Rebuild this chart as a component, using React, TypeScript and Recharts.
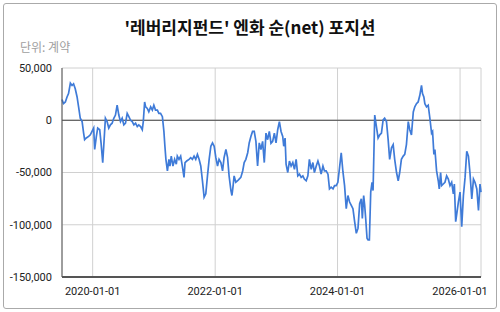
import React from 'react';
import { LineChart, Line, XAxis, YAxis, CartesianGrid, ReferenceLine } from 'recharts';

const dates = [
  '2019-07-02', '2019-07-11', '2019-07-22', '2019-08-01', '2019-08-10', '2019-08-21', '2019-08-31', '2019-09-09', '2019-09-19', '2019-09-30',
  '2019-10-09', '2019-10-19', '2019-10-30', '2019-11-08', '2019-11-14', '2019-11-24', '2019-12-08', '2019-12-18', '2019-12-28', '2020-01-07',
  '2020-01-13', '2020-01-23', '2020-01-31', '2020-02-12', '2020-02-20', '2020-03-01', '2020-03-07', '2020-03-17', '2020-03-27', '2020-04-06',
  '2020-04-16', '2020-04-26', '2020-05-06', '2020-05-16', '2020-05-26', '2020-06-05', '2020-06-15', '2020-06-25', '2020-07-05', '2020-07-15',
  '2020-07-25', '2020-08-04', '2020-08-14', '2020-08-24', '2020-09-03', '2020-09-13', '2020-09-23', '2020-10-02', '2020-10-13', '2020-10-23',
  '2020-10-29', '2020-11-06', '2020-11-12', '2020-11-22', '2020-12-01', '2020-12-12', '2020-12-22', '2020-12-31', '2021-01-10', '2021-01-21',
  '2021-01-30', '2021-02-09', '2021-02-20', '2021-03-01', '2021-03-07', '2021-03-13', '2021-03-22', '2021-03-31', '2021-04-06', '2021-04-14',
  '2021-04-24', '2021-05-04', '2021-05-14', '2021-05-20', '2021-05-30', '2021-06-09', '2021-06-19', '2021-06-29', '2021-07-05', '2021-07-15',
  '2021-07-29', '2021-08-08', '2021-08-18', '2021-08-28', '2021-09-07', '2021-09-17', '2021-09-27', '2021-10-07', '2021-10-17', '2021-10-27',
  '2021-11-06', '2021-11-16', '2021-11-26', '2021-12-06', '2021-12-16', '2021-12-26', '2022-01-05', '2022-01-15', '2022-01-24', '2022-02-04',
  '2022-02-14', '2022-02-23', '2022-03-06', '2022-03-16', '2022-03-25', '2022-04-05', '2022-04-11', '2022-04-18', '2022-04-24', '2022-05-04',
  '2022-05-15', '2022-05-24', '2022-06-03', '2022-06-14', '2022-06-23', '2022-07-03', '2022-07-14', '2022-07-23', '2022-08-02', '2022-08-12',
  '2022-08-22', '2022-09-01', '2022-09-11', '2022-09-21', '2022-10-01', '2022-10-11', '2022-10-21', '2022-10-31', '2022-11-10', '2022-11-20',
  '2022-11-30', '2022-12-10', '2022-12-20', '2022-12-30', '2023-01-09', '2023-01-19', '2023-01-29', '2023-02-08', '2023-02-14', '2023-02-22',
  '2023-02-28', '2023-03-10', '2023-03-20', '2023-03-30', '2023-04-09', '2023-04-19', '2023-04-29', '2023-05-09', '2023-05-19', '2023-05-29',
  '2023-06-08', '2023-06-17', '2023-06-28', '2023-07-08', '2023-07-17', '2023-07-28', '2023-08-07', '2023-08-16', '2023-08-27', '2023-09-06',
  '2023-09-15', '2023-09-25', '2023-10-06', '2023-10-15', '2023-10-25', '2023-11-05', '2023-11-14', '2023-11-24', '2023-12-05', '2023-12-14',
  '2023-12-24', '2024-01-03', '2024-01-13', '2024-01-23', '2024-02-02', '2024-02-12', '2024-02-22', '2024-03-03', '2024-03-13', '2024-03-23',
  '2024-04-02', '2024-04-12', '2024-04-22', '2024-05-02', '2024-05-12', '2024-05-22', '2024-05-28', '2024-06-05', '2024-06-11', '2024-06-17',
  '2024-06-25', '2024-07-01', '2024-07-09', '2024-07-17', '2024-07-25', '2024-07-31', '2024-08-10', '2024-08-20', '2024-08-30', '2024-09-09',
  '2024-09-19', '2024-09-29', '2024-10-08', '2024-10-19', '2024-10-29', '2024-11-07', '2024-11-18', '2024-11-28', '2024-12-07', '2024-12-18',
  '2024-12-28', '2025-01-06', '2025-01-16', '2025-01-27', '2025-02-05', '2025-02-15', '2025-02-26', '2025-03-07', '2025-03-17', '2025-03-28',
  '2025-04-06', '2025-04-16', '2025-04-26', '2025-05-06', '2025-05-16', '2025-05-22', '2025-05-30', '2025-06-05', '2025-06-15', '2025-06-25',
  '2025-07-05', '2025-07-15', '2025-07-21', '2025-07-29', '2025-08-04', '2025-08-14', '2025-08-24', '2025-08-30', '2025-09-07', '2025-09-13',
  '2025-09-23', '2025-10-03', '2025-10-13', '2025-10-23', '2025-11-02', '2025-11-12', '2025-11-22', '2025-11-28', '2025-12-06', '2025-12-14',
  '2025-12-22', '2026-01-01', '2026-01-11', '2026-01-21', '2026-01-31', '2026-02-10', '2026-02-20', '2026-03-01', '2026-03-12', '2026-03-22',
  '2026-03-31', '2026-04-11', '2026-04-21', '2026-04-30', '2026-05-06',
];

const netPositions = [
  19800, 16000, 17500, 22300, 25500, 35500, 33300, 34900, 30200, 22300,
  12800, 1900, -1300, -12300, -18600, -17000, -15500, -13900, -10700, -7500,
  -28000, -15500, -7500, -9100, -21700, -40500, -24900, 1900, -1300, -7500,
  -4400, -2800, 1900, 5000, 14400, 5000, -1300, 1900, -4400, -2800,
  6600, 3400, 0, -1300, -4400, -2800, -6000, -4400, -6000, -9100,
  -1300, 17500, 12800, 11300, 8100, 12800, 9700, 14400, 9700, 9700,
  6600, 6600, 3400, -10700, -24900, -37400, -48500, -37400, -43800, -34300,
  -43800, -37400, -42100, -34300, -37400, -34300, -43800, -54700, -40500, -39000,
  -37400, -35800, -37400, -34300, -37400, -32700, -37400, -43800, -58000, -73600,
  -70400, -53200, -37400, -24900, -21700, -24900, -35800, -43800, -37400, -40500,
  -48500, -35800, -28000, -35800, -53200, -67300, -72000, -62600, -53200, -59400,
  -57900, -56300, -54700, -48500, -40500, -37400, -31100, -21700, -15500, -10700,
  -10700, -20200, -43800, -21700, -28000, -20200, -40500, -12300, -18600, -10700,
  -22000, -20200, -12300, -21700, -9100, -1300, -10700, -15500, -24900, -17000,
  -42100, -50000, -39000, -43800, -40500, -46900, -37400, -53200, -51600, -54700,
  -53200, -56300, -57900, -53200, -37400, -46900, -40500, -50000, -43800, -39000,
  -43800, -51600, -43800, -48500, -48500, -51600, -65700, -64100, -65700, -62600,
  -62600, -59400, -45300, -31100, -49000, -62600, -84600, -72000, -78300, -81500,
  -84600, -97100, -108200, -103500, -79900, -75200, -94000, -72000, -81500, -94000,
  -112900, -114500, -114500, -68800, -59400, -67300, 5000, -6000, -17000, -13900,
  -12300, 300, 1900, -1300, -18600, -37400, -26400, -23300, -37400, -50000,
  -57900, -50000, -37400, -34300, -32700, -23300, -1300, -9100, -14000, 8000,
  12800, 15900, 17500, 23900, 33300, 25500, 22300, 15900, 12800, 14400,
  1900, -12300, -10700, -32700, -28000, -48500, -57900, -65700, -50000, -62600,
  -61000, -59400, -53200, -56300, -62600, -59400, -70400, -61000, -97100, -87700,
  -78300, -68800, -101800, -72000, -54700, -29600, -34300, -50000, -75200, -56300,
  -59400, -65700, -86200, -61000, -68800,
];

const xTickLabels = ['2020-01-01', '2022-01-01', '2024-01-01', '2026-01-01'];
const yTicks = [-150000, -100000, -50000, 0, 50000];

const toTime = (d: string) => Date.parse(d + 'T00:00:00Z');

const data = dates.map((d, i) => ({ t: toTime(d), net: netPositions[i] }));
const xTicks = xTickLabels.map(toTime);

const formatDate = (t: number) => new Date(t).toISOString().slice(0, 10);
const formatNumber = (v: number) => v.toLocaleString('en-US');

export default function App() {
  return (
    <div style={{ position: 'fixed', left: 0, top: 0, width: 500, height: 312, background: '#fff', overflow: 'hidden' }}>
      <div
        style={{
          position: 'absolute',
          left: 3,
          top: 3,
          width: 494,
          height: 306,
          border: '1px solid #aaaaaa',
          borderRadius: 3,
          boxSizing: 'border-box',
        }}
      />
      <div
        style={{
          position: 'absolute',
          top: 14,
          left: 0,
          width: 500,
          textAlign: 'center',
          fontFamily: '"Noto Sans CJK KR", Roboto, sans-serif',
          fontWeight: 700,
          fontSize: 17,
          color: '#111',
        }}
      >
        '레버리지펀드' 엔화 순(net) 포지션
      </div>
      <div
        style={{
          position: 'absolute',
          top: 38,
          left: 20,
          fontFamily: '"Noto Sans CJK KR", Roboto, sans-serif',
          fontSize: 12,
          color: '#9e9e9e',
        }}
      >
        단위: 계약
      </div>
      <div style={{ position: 'absolute', left: 0, top: 0 }}>
        <LineChart
          width={500}
          height={312}
          data={data}
          margin={{ top: 68, right: 19, bottom: 5, left: 2 }}
          style={{ fontFamily: 'Roboto, sans-serif' }}
        >
          <CartesianGrid stroke="#d0d0d0" strokeWidth={1} />
          <XAxis
            dataKey="t"
            type="number"
            scale="time"
            domain={[data[0].t, data[data.length - 1].t]}
            ticks={xTicks}
            tickFormatter={formatDate}
            height={30}
            axisLine={{ stroke: '#555', strokeWidth: 2 }}
            tickLine={false}
            tick={{ fill: '#222', fontSize: 11 }}
            tickMargin={4}
            interval={0}
          />
          <YAxis
            type="number"
            domain={[-150000, 50000]}
            ticks={yTicks}
            tickFormatter={formatNumber}
            width={60}
            axisLine={{ stroke: '#555', strokeWidth: 1 }}
            tickLine={false}
            tick={{ fill: '#222', fontSize: 11 }}
            tickMargin={4}
            interval={0}
          />
          <ReferenceLine y={0} stroke="#444" strokeWidth={1} />
          <Line
            type="linear"
            dataKey="net"
            stroke="#3f7bd8"
            strokeWidth={1.7}
            dot={false}
            isAnimationActive={false}
          />
        </LineChart>
      </div>
    </div>
  );
}
